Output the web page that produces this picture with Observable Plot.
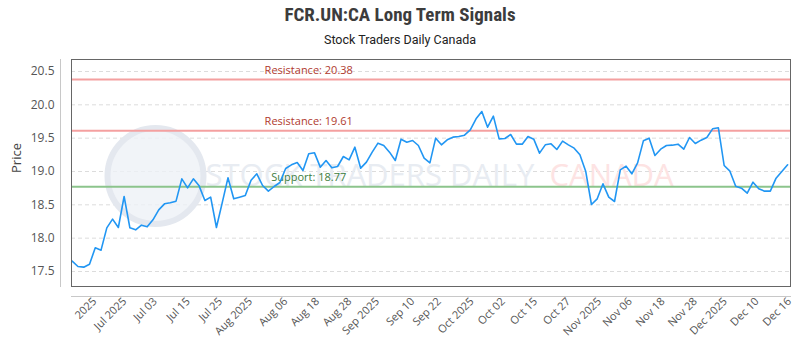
<!DOCTYPE html>
<html><head><meta charset="utf-8">
<script src="https://cdn.jsdelivr.net/npm/d3@7"></script>
<script src="https://cdn.jsdelivr.net/npm/@observablehq/plot@0.6"></script>
<style>
body{margin:0;background:#fff;width:800px;height:350px;position:relative;overflow:hidden}
#title{position:absolute;top:3px;left:0;width:800px;text-align:center;font:bold 19px "Liberation Sans Narrow","Roboto Condensed",Roboto,sans-serif;color:#3c3c3c}
#subtitle{position:absolute;top:32px;left:0;width:800px;text-align:center;font:12.5px "Liberation Sans Narrow",Roboto,sans-serif;color:#222}
#chart{position:absolute;top:0;left:0}
</style></head>
<body>
<div id="chart"></div>
<div id="title">FCR.UN:CA Long Term Signals</div>
<div id="subtitle">Stock Traders Daily Canada</div>
<script>
const prices = [17.655,17.575,17.565,17.61,17.855,17.82,18.155,18.285,18.16,18.625,
18.155,18.125,18.195,18.17,18.275,18.425,18.515,18.53,18.555,18.89,
18.755,18.89,18.785,18.565,18.615,18.16,18.53,18.905,18.59,18.615,
18.64,18.87,18.965,18.79,18.705,18.775,18.835,19.045,19.10,19.135,
19.015,19.265,19.28,19.065,19.165,19.055,19.075,19.225,19.175,19.365,
19.05,19.14,19.29,19.425,19.39,19.29,19.165,19.485,19.44,19.465,
19.39,19.20,19.13,19.50,19.40,19.475,19.515,19.525,19.545,19.625,
19.79,19.90,19.665,19.83,19.49,19.495,19.555,19.41,19.41,19.525,
19.485,19.275,19.40,19.415,19.33,19.455,19.40,19.35,19.25,19.005,
18.505,18.59,18.815,18.615,18.55,19.025,19.08,18.965,19.13,19.46,
19.50,19.24,19.335,19.39,19.395,19.41,19.335,19.51,19.42,19.47,
19.51,19.64,19.655,19.09,19.005,18.78,18.75,18.675,18.84,18.74,
18.705,18.705,18.90,19.00,19.10];
const tickIndex = [3.9,9.1,14.4,20.1,25.7,30.9,37.0,42.5,48.1,52.9,59.0,63.6,69.3,74.7,80.3,86.0,91.4,96.7,102.4,108.0,113.2,118.7,124.3];
const tickLabels = ["2025","Jul 2025","Jul 03","Jul 15","Jul 25","Aug 2025","Aug 06","Aug 18","Aug 28","Sep 2025","Sep 10","Sep 22","Oct 2025","Oct 02","Oct 15","Oct 27","Nov 2025","Nov 06","Nov 18","Nov 28","Dec 2025","Dec 10","Dec 16"];
const yTicks = [17.5,18.0,18.5,19.0,19.5,20.0,20.5];
const levelValues = [20.38,19.61,18.77];
const levelKinds = ["Resistance","Resistance","Support"];

const levels = levelValues.map((v,i)=>({value:v, kind:levelKinds[i]}));
const series = prices.map((p,i)=>({i, p}));

const lineColor = {Resistance:"#f4a0a0", Support:"#8cc48c"};
const textColor = {Resistance:"#b03a2e", Support:"#3d7d3d"};

const chart = Plot.plot({
  width: 800, height: 350,
  marginLeft: 71, marginRight: 10, marginTop: 59, marginBottom: 64,
  style: {fontFamily: "'Open Sans', sans-serif", fontSize: "11px", background: "transparent"},
  x: {domain: [-0.12, 124.5], axis: null},
  y: {domain: [17.275, 20.68], axis: null},
  marks: [
    Plot.gridY(yTicks, {stroke: "#dcdcdc", strokeOpacity: 1, strokeDasharray: "4,3"}),
    Plot.dot([0], {frameAnchor: "left", dx: 84, dy: 3, r: 48, fill: "#eef1f6", stroke: "#e4e8ef", strokeWidth: 6, fillOpacity: 0.8}),
    Plot.text(["STOCK TRADERS DAILY"], {frameAnchor: "left", dx: 134, dy: 3, textAnchor: "start", fontSize: 31, fill: "#e8ecf2"}),
    Plot.text(["CANADA"], {frameAnchor: "left", dx: 478, dy: 3, textAnchor: "start", fontSize: 31, fill: "#fde3e3"}),
    Plot.ruleY(levels, {y: "value", stroke: d => lineColor[d.kind], strokeWidth: 2}),
    Plot.text(levels, {x: 41, y: "value", dy: -9, text: d => `${d.kind}: ${d.value.toFixed(2)}`, fill: d => textColor[d.kind], fontSize: 11}),
    Plot.line(series, {x: "i", y: "p", stroke: "#2196f3", strokeWidth: 1.6}),
    Plot.frame({stroke: "#666"}),
    Plot.frame({anchor: "left", dx: -11, stroke: "#c8c8c8"}),
    Plot.frame({anchor: "bottom", dy: 10, stroke: "#c8c8c8"}),
    Plot.axisY(yTicks, {tickSize: 0, tickPadding: 17, fontSize: 12, fill: "#555", label: null, tickFormat: d => d.toFixed(1)}),
    Plot.axisX(tickIndex, {tickSize: 0, tickPadding: 13, tickRotate: -45, fontSize: 11, fill: "#555", label: null, tickFormat: d => tickLabels[tickIndex.indexOf(d)]}),
    Plot.text(["Price"], {frameAnchor: "left", dx: -55, rotate: -90, fontSize: 13, fill: "#444"})
  ]
});
document.getElementById("chart").appendChild(chart);
</script>
</body></html>
